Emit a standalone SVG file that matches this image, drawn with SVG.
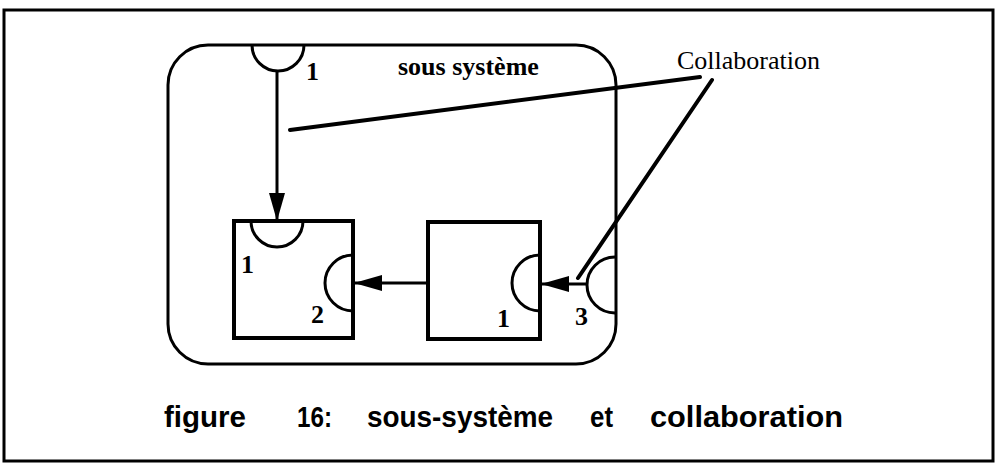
<svg xmlns="http://www.w3.org/2000/svg" width="996" height="465" viewBox="0 0 996 465">
<style>
.frame{fill:none;stroke:#000;stroke-width:3}
.sub{fill:none;stroke:#000;stroke-width:3}
.box{fill:#fff;stroke:#000;stroke-width:4}
.port{fill:none;stroke:#000;stroke-width:3}
.conn{fill:none;stroke:#000;stroke-width:3}
.lead{fill:none;stroke:#000;stroke-width:4;stroke-linecap:round}
.num{font-family:"Liberation Serif","Times New Roman",serif;font-weight:bold;font-size:26px;fill:#000}
.lbl{font-family:"Liberation Serif","Times New Roman",serif;font-size:26px;fill:#000}
.cap{font-family:"Liberation Sans",Arial,sans-serif;font-weight:bold;font-size:30px;fill:#000}
</style>
<defs>
<marker id="arr" viewBox="0 0 28 16" refX="28" refY="8" markerWidth="28" markerHeight="16" markerUnits="userSpaceOnUse" orient="auto">
<path d="M0,0 L28,8 L0,16 Z" fill="#000"/>
</marker>
</defs>
<rect class="frame" x="4" y="10" width="989" height="451"/>
<g id="subsysteme">
<rect class="sub" x="168" y="45" width="448" height="319" rx="40" ry="40"/>
<path class="port" d="M252,45 A26,26 0 0 0 304,45"/>
<path class="port" d="M615,257 A28,28 0 0 0 615,313"/>
<text class="lbl" x="398" y="75" font-weight="bold">sous système</text>
<text class="num" x="306" y="80">1</text>
<text class="num" x="575" y="325">3</text>
</g>
<g id="objet1">
<rect class="box" x="234" y="221" width="119" height="117"/>
<path class="port" d="M251,221 A26,26 0 0 0 303,221"/>
<path class="port" d="M353,255 A28,28 0 0 0 353,311"/>
<text class="num" x="241" y="273">1</text>
<text class="num" x="311" y="323">2</text>
</g>
<g id="objet2">
<rect class="box" x="428" y="222" width="112" height="117"/>
<path class="port" d="M540,255 A28,28 0 0 0 540,311"/>
<text class="num" x="497" y="327">1</text>
</g>
<g id="collaboration">
<text class="lbl" x="677" y="69">Collaboration</text>
</g>
<g id="connectors">
<line class="conn" x1="277" y1="71" x2="277" y2="221" marker-end="url(#arr)"/>
<line class="conn" x1="428" y1="283" x2="354" y2="283" marker-end="url(#arr)"/>
<line class="conn" x1="587" y1="284" x2="541" y2="284" marker-end="url(#arr)"/>
<line class="lead" x1="290" y1="130" x2="700" y2="77"/>
<line class="lead" x1="712" y1="80" x2="578" y2="278"/>
</g>
<g id="caption">
<text class="cap" x="164" y="427" textLength="82" lengthAdjust="spacingAndGlyphs">figure</text>
<text class="cap" x="297" y="427" textLength="35" lengthAdjust="spacingAndGlyphs">16:</text>
<text class="cap" x="367" y="427" textLength="186" lengthAdjust="spacingAndGlyphs">sous-système</text>
<text class="cap" x="590" y="427" textLength="23" lengthAdjust="spacingAndGlyphs">et</text>
<text class="cap" x="650" y="427" textLength="193" lengthAdjust="spacingAndGlyphs">collaboration</text>
</g>
</svg>
